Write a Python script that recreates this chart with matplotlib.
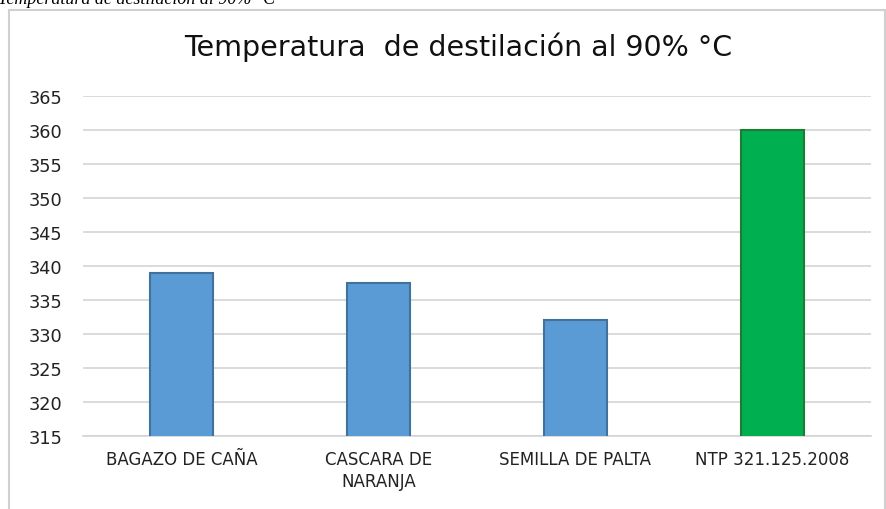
import matplotlib.pyplot as plt
from matplotlib.patches import Rectangle

categories = ["BAGAZO DE CAÑA", "CASCARA DE\nNARANJA", "SEMILLA DE PALTA", "NTP 321.125.2008"]
values = [339, 337.5, 332, 360]
bar_colors = ["#5B9BD5", "#5B9BD5", "#5B9BD5", "#00B050"]
edge_colors = ["#41719C", "#41719C", "#41719C", "#1E7B34"]
yticks = list(range(315, 366, 5))

plt.rcParams["font.family"] = ["DejaVu Sans"]

fig = plt.figure(figsize=(8.87, 5.1), dpi=100)

# chart frame
fig.patches.append(Rectangle((9 / 887, -0.05), 876 / 887, 1 - 11 / 510 + 0.05,
                             transform=fig.transFigure, fill=False,
                             edgecolor="#d0d0d0", linewidth=1.5))

# caption above the chart, cut off by the top edge as in the source
fig.text(-0.002, 1 - 4 / 510, "Temperatura de destilación al 90% °C", family="Liberation Serif",
         style="italic", fontsize=13, color="black", va="baseline", ha="left")

ax = fig.add_axes([83 / 887, 1 - 437 / 510, 788 / 887, 340 / 510])
x = range(len(categories))
ax.bar(x, values, width=0.315, color=bar_colors, edgecolor=edge_colors, linewidth=1.5, zorder=3)

ax.set_ylim(315, 365)
ax.set_xlim(-0.5, 3.5)
ax.set_yticks(yticks)
ax.set_xticks(list(x))
ax.set_xticklabels(categories, fontsize=12, color="#222222", linespacing=1.3)
ax.tick_params(axis="y", labelsize=12.8, labelcolor="#222222", length=0, pad=15)
ax.tick_params(axis="x", length=0, pad=10)
ax.grid(axis="y", color="#d4d4d4", linewidth=1.2, zorder=0)
for s in ["top", "right", "left"]:
    ax.spines[s].set_visible(False)
ax.spines["bottom"].set_color("#d4d4d4")
ax.spines["bottom"].set_linewidth(1.2)

fig.text(0.516, 1 - 47 / 510, "Temperatura  de destilación al 90% °C", ha="center", va="center",
         fontsize=20.5, color="#111111")

fig.savefig("out.png", dpi=100)
